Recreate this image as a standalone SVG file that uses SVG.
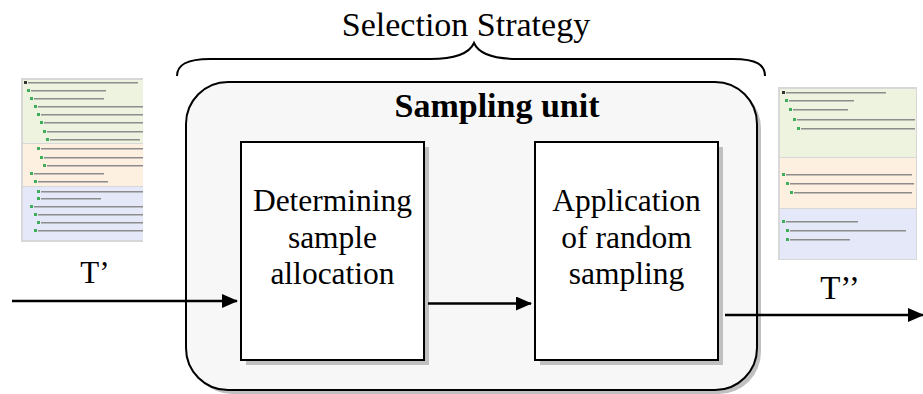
<svg xmlns="http://www.w3.org/2000/svg" width="923" height="394" viewBox="0 0 923 394">
<style>
.t{font-family:"Liberation Serif","Times New Roman",serif;fill:#000;text-anchor:middle}
.box{fill:#fff;stroke:#000;stroke-width:2}
.sh{fill:#c0c0c0}
.conn{stroke:#000;stroke-width:2.5;fill:none}
.ic{fill:#3fae5a}
.ik{fill:#333}
.bar{fill:#8c8c8c}
.g{fill:#eef3df}
.o{fill:#fdf0e1}
.b{fill:#e4e8f8}
</style>
<defs>
<marker id="ah" markerUnits="userSpaceOnUse" markerWidth="16" markerHeight="14" refX="15" refY="7" orient="auto">
<path d="M0,0 L16,7 L0,14 Z" fill="#000"/>
</marker>
<clipPath id="cl"><rect x="21" y="78" width="122" height="164"/></clipPath>
<clipPath id="cr"><rect x="778" y="87" width="139" height="173"/></clipPath>
</defs>
<rect width="923" height="394" fill="#fff"/>

<g id="thumb-left" clip-path="url(#cl)">
<rect x="21" y="78" width="122" height="164" fill="#d8d8d8"/>
<rect class="g" x="23" y="80" width="120" height="63"/>
<rect class="o" x="23" y="144" width="120" height="42"/>
<rect class="b" x="23" y="187" width="120" height="53"/>
<rect class="ik" x="24" y="81" width="3" height="3"/><rect class="bar" x="28" y="82" width="110" height="1.5"/>
<rect class="ic" x="27" y="89" width="3" height="3"/><rect class="bar" x="31" y="90" width="75" height="1.5"/>
<rect class="ic" x="30" y="97" width="3" height="3"/><rect class="bar" x="34" y="98" width="70" height="1.5"/>
<rect class="ic" x="34" y="105" width="3" height="3"/><rect class="bar" x="38" y="106" width="105" height="1.5"/>
<rect class="ic" x="37" y="113" width="3" height="3"/><rect class="bar" x="41" y="114" width="102" height="1.5"/>
<rect class="ic" x="40" y="121" width="3" height="3"/><rect class="bar" x="44" y="122" width="99" height="1.5"/>
<rect class="ic" x="43" y="130" width="3" height="3"/><rect class="bar" x="47" y="131" width="96" height="1.5"/>
<rect class="ic" x="46" y="138" width="3" height="3"/><rect class="bar" x="50" y="139" width="90" height="1.5"/>
<rect class="ic" x="37" y="147" width="3" height="3"/><rect class="bar" x="41" y="148" width="102" height="1.5"/>
<rect class="ic" x="40" y="156" width="3" height="3"/><rect class="bar" x="44" y="157" width="99" height="1.5"/>
<rect class="ic" x="43" y="164" width="3" height="3"/><rect class="bar" x="47" y="165" width="96" height="1.5"/>
<rect class="ic" x="30" y="172" width="3" height="3"/><rect class="bar" x="34" y="173" width="70" height="1.5"/>
<rect class="ic" x="34" y="180" width="3" height="3"/><rect class="bar" x="38" y="181" width="70" height="1.5"/>
<rect class="ic" x="37" y="190" width="3" height="3"/><rect class="bar" x="41" y="191" width="102" height="1.5"/>
<rect class="ic" x="37" y="197" width="3" height="3"/><rect class="bar" x="41" y="198" width="60" height="1.5"/>
<rect class="ic" x="30" y="205" width="3" height="3"/><rect class="bar" x="34" y="206" width="109" height="1.5"/>
<rect class="ic" x="34" y="213" width="3" height="3"/><rect class="bar" x="38" y="214" width="105" height="1.5"/>
<rect class="ic" x="37" y="221" width="3" height="3"/><rect class="bar" x="41" y="222" width="102" height="1.5"/>
<rect class="ic" x="34" y="229" width="3" height="3"/><rect class="bar" x="38" y="230" width="105" height="1.5"/>
</g>

<g id="thumb-right" clip-path="url(#cr)">
<rect x="778" y="87" width="139" height="173" fill="#d8d8d8"/>
<rect class="g" x="780" y="89" width="136" height="68"/>
<rect class="o" x="780" y="158" width="136" height="50"/>
<rect class="b" x="780" y="209" width="136" height="50"/>
<rect class="ik" x="782" y="91" width="3" height="3"/><rect class="bar" x="786" y="92" width="100" height="1.5"/>
<rect class="ic" x="785" y="99" width="3" height="3"/><rect class="bar" x="789" y="100" width="65" height="1.5"/>
<rect class="ic" x="789" y="108" width="3" height="3"/><rect class="bar" x="793" y="109" width="55" height="1.5"/>
<rect class="ic" x="793" y="118" width="3" height="3"/><rect class="bar" x="797" y="119" width="118" height="1.5"/>
<rect class="ic" x="797" y="127" width="3" height="3"/><rect class="bar" x="801" y="128" width="114" height="1.5"/>
<rect class="ic" x="782" y="173" width="3" height="3"/><rect class="bar" x="786" y="174" width="126" height="1.5"/>
<rect class="ic" x="786" y="182" width="3" height="3"/><rect class="bar" x="790" y="183" width="124" height="1.5"/>
<rect class="ic" x="790" y="191" width="3" height="3"/><rect class="bar" x="794" y="192" width="118" height="1.5"/>
<rect class="ic" x="782" y="220" width="3" height="3"/><rect class="bar" x="786" y="221" width="72" height="1.5"/>
<rect class="ic" x="786" y="229" width="3" height="3"/><rect class="bar" x="790" y="230" width="116" height="1.5"/>
<rect class="ic" x="786" y="238" width="3" height="3"/><rect class="bar" x="790" y="239" width="60" height="1.5"/>
</g>

<g id="selection-strategy">
<text class="t" x="466" y="36" font-size="34">Selection Strategy</text>
<path d="M177,76 C177,65 186,59 210,59 L430,59 C458,59 470,52 474,43 C478,52 490,59 518,59 L733,59 C757,59 765,65 765,76" fill="none" stroke="#000" stroke-width="2"/>
</g>

<g id="sampling-unit">
<rect x="190" y="86" width="571" height="308" rx="42" fill="#c0c0c0"/>
<rect x="186" y="82" width="571" height="308" rx="42" fill="#f7f7f7" stroke="#000" stroke-width="2"/>
<text class="t" x="497" y="117" font-size="34" font-weight="bold">Sampling unit</text>
</g>

<g id="determining">
<rect class="sh" x="246" y="147" width="183" height="218"/>
<rect class="box" x="241" y="142" width="183" height="218"/>
<text class="t" font-size="31.5"><tspan x="332.5" y="211">Determining</tspan><tspan x="332.5" y="248">sample</tspan><tspan x="332.5" y="284">allocation</tspan></text>
</g>

<g id="application">
<rect class="sh" x="540" y="147" width="183" height="218"/>
<rect class="box" x="535" y="142" width="183" height="218"/>
<text class="t" font-size="31.5"><tspan x="626.5" y="211">Application</tspan><tspan x="626.5" y="248">of random</tspan><tspan x="626.5" y="284">sampling</tspan></text>
</g>

<g id="connectors">
<line class="conn" x1="12" y1="301" x2="237" y2="301" marker-end="url(#ah)"/>
<line class="conn" x1="428" y1="303.5" x2="531" y2="303.5" marker-end="url(#ah)"/>
<line class="conn" x1="725" y1="315" x2="923" y2="315" marker-end="url(#ah)"/>
</g>

<g id="labels">
<text class="t" x="95" y="283" font-size="31">T’</text>
<text class="t" x="840" y="299" font-size="33">T’’</text>
</g>
</svg>
